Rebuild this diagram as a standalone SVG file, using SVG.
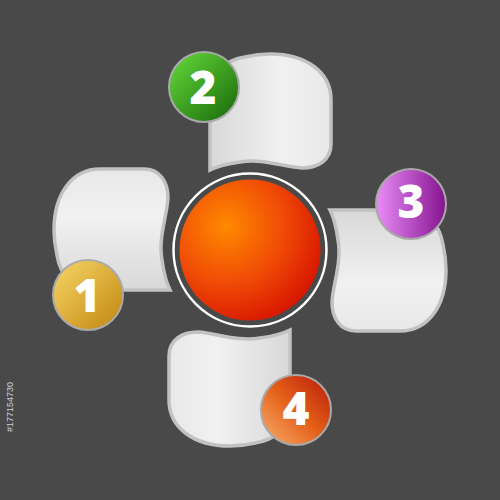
<svg xmlns="http://www.w3.org/2000/svg" width="500" height="500" viewBox="0 0 500 500">
<defs>
<style>
.petal{stroke:#c2c2c2;stroke-width:3.5;fill:url(#pg)}
.num{font-family:"Open Sans","Liberation Sans",sans-serif;font-weight:800;font-size:46px;fill:#fff;text-anchor:middle}
.bring{stroke:#a9a9a9;stroke-width:2}
</style>
<linearGradient id="pg" x1="0" y1="0" x2="0" y2="1">
<stop offset="0" stop-color="#d8d8d8"/><stop offset="0.6" stop-color="#f1f1f1"/><stop offset="1" stop-color="#e8e8e8"/>
</linearGradient>
<radialGradient id="cg" cx="0.33" cy="0.33" r="0.75">
<stop offset="0" stop-color="#ff8a00"/><stop offset="0.55" stop-color="#f04a06"/><stop offset="1" stop-color="#d61400"/>
</radialGradient>
<linearGradient id="g1" x1="0" y1="0" x2="1" y2="1"><stop offset="0" stop-color="#f8d868"/><stop offset="1" stop-color="#c1840f"/></linearGradient>
<linearGradient id="g2" x1="0" y1="0" x2="1" y2="1"><stop offset="0" stop-color="#66dc3c"/><stop offset="1" stop-color="#176608"/></linearGradient>
<linearGradient id="g3" x1="0" y1="0" x2="1" y2="0"><stop offset="0" stop-color="#e98cf7"/><stop offset="1" stop-color="#84138f"/></linearGradient>
<linearGradient id="g4" x1="0" y1="1" x2="1" y2="0"><stop offset="0" stop-color="#f8b070"/><stop offset="0.5" stop-color="#e46018"/><stop offset="1" stop-color="#b8180a"/></linearGradient>
<path id="pp" d="M330,210 L410,210 C428,211 440,226 443,245 C446,258 446,262 446,270 C446,306 428,331 400,331 L356,331 C340,331 332,318 332,302 C333,284 342,262 338,240 C336,225 333,216 330,210 Z"/>
</defs>
<rect width="500" height="500" fill="#494949"/>
<text x="13" y="432" transform="rotate(-90 13 432)" font-family="Liberation Sans, sans-serif" font-size="9" fill="#d0d0d0">#177154730</text>
<g id="center">
<circle cx="250" cy="250" r="76.5" fill="none" stroke="#ffffff" stroke-width="2.5"/>
<circle cx="250" cy="250" r="70.5" fill="url(#cg)"/>
</g>
<g id="node1">
<use href="#pp" class="petal" transform="rotate(180 250 250)"/>
<circle cx="88" cy="295" r="35" fill="url(#g1)" class="bring"/>
<text x="87" y="312" class="num">1</text>
</g>
<g id="node2">
<use href="#pp" class="petal" transform="rotate(-90 250 250)"/>
<circle cx="204" cy="87" r="35" fill="url(#g2)" class="bring"/>
<text x="203" y="104" class="num">2</text>
</g>
<g id="node3">
<use href="#pp" class="petal"/>
<circle cx="411" cy="204" r="35" fill="url(#g3)" class="bring"/>
<text x="411" y="218" class="num">3</text>
</g>
<g id="node4">
<use href="#pp" class="petal" transform="rotate(90 250 250)"/>
<circle cx="296" cy="410" r="35" fill="url(#g4)" class="bring"/>
<text x="296" y="425" class="num">4</text>
</g>
<g id="connectors"></g>
</svg>
